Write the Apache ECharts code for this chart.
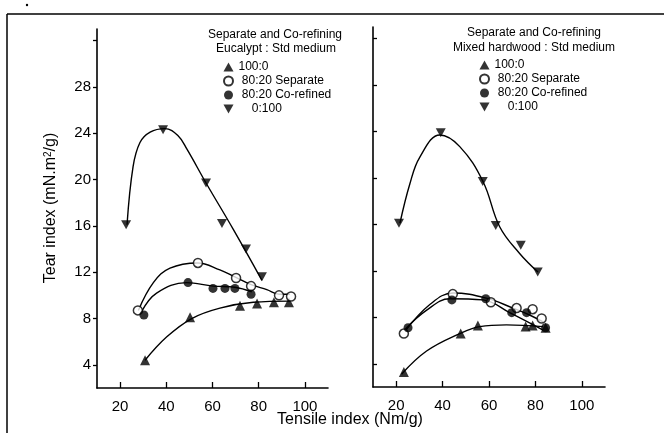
<!DOCTYPE html>
<html>
<head>
<meta charset="utf-8">
<script src="https://cdn.jsdelivr.net/npm/echarts@6/dist/echarts.min.js"></script>
<style>
  html, body { margin: 0; padding: 0; background: #fff; }
  #chart { width: 664px; height: 433px; }
</style>
</head>
<body>
<div id="chart"></div>
<script>
// tick values shared by both panels
const xTicks = [20, 40, 60, 80, 100];
const yTicks = [4, 8, 12, 16, 20, 24, 28, 32];
const yLabels = [4, 8, 12, 16, 20, 24, 28];

const legendNames = ["100:0", "80:20 Separate", "80:20 Co-refined", "0:100"];

// Eucalypt : Std medium - measured points [tensile, tear]
const eucUp = [[30.8, 4.4], [50.3, 8.1], [71.9, 9.1], [79.3, 9.3], [86.6, 9.4], [93.1, 9.4]];
const eucSep = [[27.7, 8.7], [53.7, 12.8], [70.2, 11.5], [76.7, 10.8], [88.8, 10.0], [94, 9.9]];
const eucCo = [[30.3, 8.3], [49.4, 11.1], [60.2, 10.6], [65.4, 10.6], [69.7, 10.6], [76.7, 10.1]];
const eucDown = [[22.6, 16.1], [38.6, 24.3], [57.2, 19.7], [64.1, 16.2], [74.5, 14.0], [81.4, 11.6]];

// Eucalypt fitted curves
const eucUpFit = [[30.8, 4.4], [40.1, 6.4], [51, 8.0], [63.2, 8.9], [77.7, 9.4], [93.5, 9.5]];
const eucSepFit = [[27.9, 8.7], [34.4, 11.1], [41.6, 12.35], [53.6, 12.8], [63.2, 12.2], [69.7, 11.6], [77, 10.9], [83.5, 10.5], [88.9, 10.1], [93.5, 10.1]];
const eucCoFit = [[29.3, 8.6], [35.8, 10.2], [48.8, 11.1], [60.3, 10.8], [69.7, 10.7], [77, 10.3]];
const eucDownFit = [[23, 16.1], [25.6, 21.1], [28.6, 23.2], [33, 24.1], [39.4, 24.4], [45, 23.8], [49, 22.6], [57.2, 19.7], [69, 15.7], [81.4, 11.3]];

// Mixed hardwood : Std medium - measured points
const hwUp = [[23.3, 3.3], [47.8, 6.6], [55.2, 7.3], [75.8, 7.2], [78.8, 7.3], [84.4, 7.1]];
const hwSep = [[23.3, 6.6], [44.4, 10.0], [60.8, 9.3], [71.9, 8.8], [78.8, 8.7], [82.7, 7.9]];
const hwCo = [[25.1, 7.1], [44, 9.5], [58.6, 9.6], [69.8, 8.4], [76.2, 8.4], [84.4, 7.1]];
const hwDown = [[21.2, 16.1], [39.2, 23.9], [57.3, 19.7], [62.9, 15.9], [73.7, 14.2], [81, 11.9]];

// Mixed hardwood fitted curves
const hwUpFit = [[22.3, 3.1], [33.1, 5.1], [47.4, 6.6], [56, 7.2], [67.5, 7.35], [83.3, 7.2]];
const hwSepFit = [[23.8, 6.8], [34.5, 9.1], [44.5, 10.1], [58.9, 9.65], [70.3, 8.8], [77.5, 8.2], [83.3, 7.6]];
const hwCoFit = [[24, 7.0], [33, 8.6], [43.1, 9.6], [57.4, 9.5], [68.9, 8.4], [83.3, 6.9]];
const hwDownFit = [[21.6, 16.1], [25.9, 19.5], [30.2, 21.8], [38.8, 23.7], [47.4, 22.7], [57.4, 19.7], [64.6, 15.8], [73.2, 13.5], [81.1, 11.9]];

const FONT = "'Liberation Sans', Arial, sans-serif";
const downTri = "path://M0,0 L10,0 L5,9 Z";

const markerStyle = {
  "100:0": { symbol: "triangle", symbolSize: 10, itemStyle: { color: "#000" } },
  "80:20 Separate": { symbol: "circle", symbolSize: 9, itemStyle: { color: "#fff", borderColor: "#000", borderWidth: 1.5 } },
  "80:20 Co-refined": { symbol: "circle", symbolSize: 9, itemStyle: { color: "#000" } },
  "0:100": { symbol: downTri, symbolSize: [10, 9], itemStyle: { color: "#000" } },
};

function xAxisOpt(idx, showLabel) {
  return {
    type: "value", gridIndex: idx, min: 10, max: 110,
    axisLine: { lineStyle: { color: "#000", width: 1.6 } },
    axisTick: { inside: true, length: 6, customValues: xTicks, lineStyle: { color: "#000", width: 1.3 } },
    axisLabel: { show: showLabel, customValues: xTicks, margin: 11, color: "#000", fontSize: 15, fontFamily: FONT },
    splitLine: { show: false },
  };
}

function yAxisOpt(idx, showLabel, inside) {
  return {
    type: "value", gridIndex: idx, min: 2, max: 33,
    axisLine: { onZero: false, lineStyle: { color: "#000", width: 1.6 } },
    axisTick: { inside: inside, length: 4, customValues: yTicks, lineStyle: { color: "#000", width: 1.3 } },
    axisLabel: { show: showLabel, customValues: yLabels, margin: 6, color: "#000", fontSize: 15, fontFamily: FONT },
    splitLine: { show: false },
  };
}

function curve(data, idx) {
  return {
    name: "fit", type: "line", xAxisIndex: idx, yAxisIndex: idx, data: data,
    smooth: 0.4, showSymbol: false, silent: true, z: 2,
    lineStyle: { color: "#000", width: 1.4 },
  };
}

function points(name, data, idx) {
  const m = markerStyle[name];
  return Object.assign({ name: name, type: "scatter", xAxisIndex: idx, yAxisIndex: idx, data: data, z: 5 }, m);
}

// pad legend labels like the original typesetting
const legendPad = { "100:0": "", "80:20 Separate": " ", "80:20 Co-refined": " ", "0:100": "    " };

function legendOpt(left, top) {
  return {
    orient: "vertical", left: left, top: top, padding: 0,
    itemWidth: 10, itemHeight: 9, itemGap: 2,
    data: legendNames,
    textStyle: { color: "#000", fontSize: 12, fontFamily: FONT },
    formatter: (name) => legendPad[name] + name,
  };
}

function titleText(x, y, text) {
  return {
    type: "text", x: x, y: y, silent: true,
    style: { text: text, textAlign: "center", textVerticalAlign: "middle", fill: "#000", font: "12px " + FONT },
  };
}

const chart = echarts.init(document.getElementById("chart"));

const option = {
  backgroundColor: "#fff",
  animation: false,
  grid: [
    { left: 97, top: 29, width: 231, height: 359, outerBoundsMode: "none" },
    { left: 373, top: 27, width: 232, height: 360, outerBoundsMode: "none" },
  ],
  xAxis: [xAxisOpt(0, true), xAxisOpt(1, true)],
  yAxis: [yAxisOpt(0, true, false), yAxisOpt(1, false, true)],
  legend: [legendOpt(223, 61), legendOpt(479, 59)],
  series: [
    curve(eucUpFit, 0), curve(eucSepFit, 0), curve(eucCoFit, 0), curve(eucDownFit, 0),
    curve(hwUpFit, 1), curve(hwSepFit, 1), curve(hwCoFit, 1), curve(hwDownFit, 1),
    points("100:0", eucUp, 0), points("80:20 Separate", eucSep, 0),
    points("80:20 Co-refined", eucCo, 0), points("0:100", eucDown, 0),
    points("100:0", hwUp, 1), points("80:20 Separate", hwSep, 1),
    points("80:20 Co-refined", hwCo, 1), points("0:100", hwDown, 1),
  ],
  graphic: [
    // outer frame (top and left edges visible)
    { type: "line", shape: { x1: 7, y1: 14, x2: 664, y2: 14 }, style: { stroke: "#000", lineWidth: 1.5 } },
    { type: "line", shape: { x1: 7, y1: 14, x2: 7, y2: 433 }, style: { stroke: "#000", lineWidth: 1.5 } },
    { type: "circle", shape: { cx: 27, cy: 5, r: 1.2 }, style: { fill: "#000" } },
    titleText(275, 35, "Separate and Co-refining"),
    titleText(276, 49, "Eucalypt : Std medium"),
    titleText(534, 33, "Separate and Co-refining"),
    titleText(534, 48, "Mixed hardwood : Std medium"),
    {
      type: "text", x: 51, y: 208, rotation: Math.PI / 2, silent: true,
      style: {
        text: "Tear index (mN.m{s|2}/g)", textAlign: "center", textVerticalAlign: "middle",
        fill: "#000", font: "16px " + FONT,
        rich: { s: { fontSize: 10, fontFamily: FONT, verticalAlign: "top", fill: "#000" } },
      },
    },
    {
      type: "text", x: 350, y: 420, silent: true,
      style: { text: "Tensile index (Nm/g)", textAlign: "center", textVerticalAlign: "middle", fill: "#000", font: "16px " + FONT },
    },
  ],
};

chart.setOption(option);
</script>
</body>
</html>
